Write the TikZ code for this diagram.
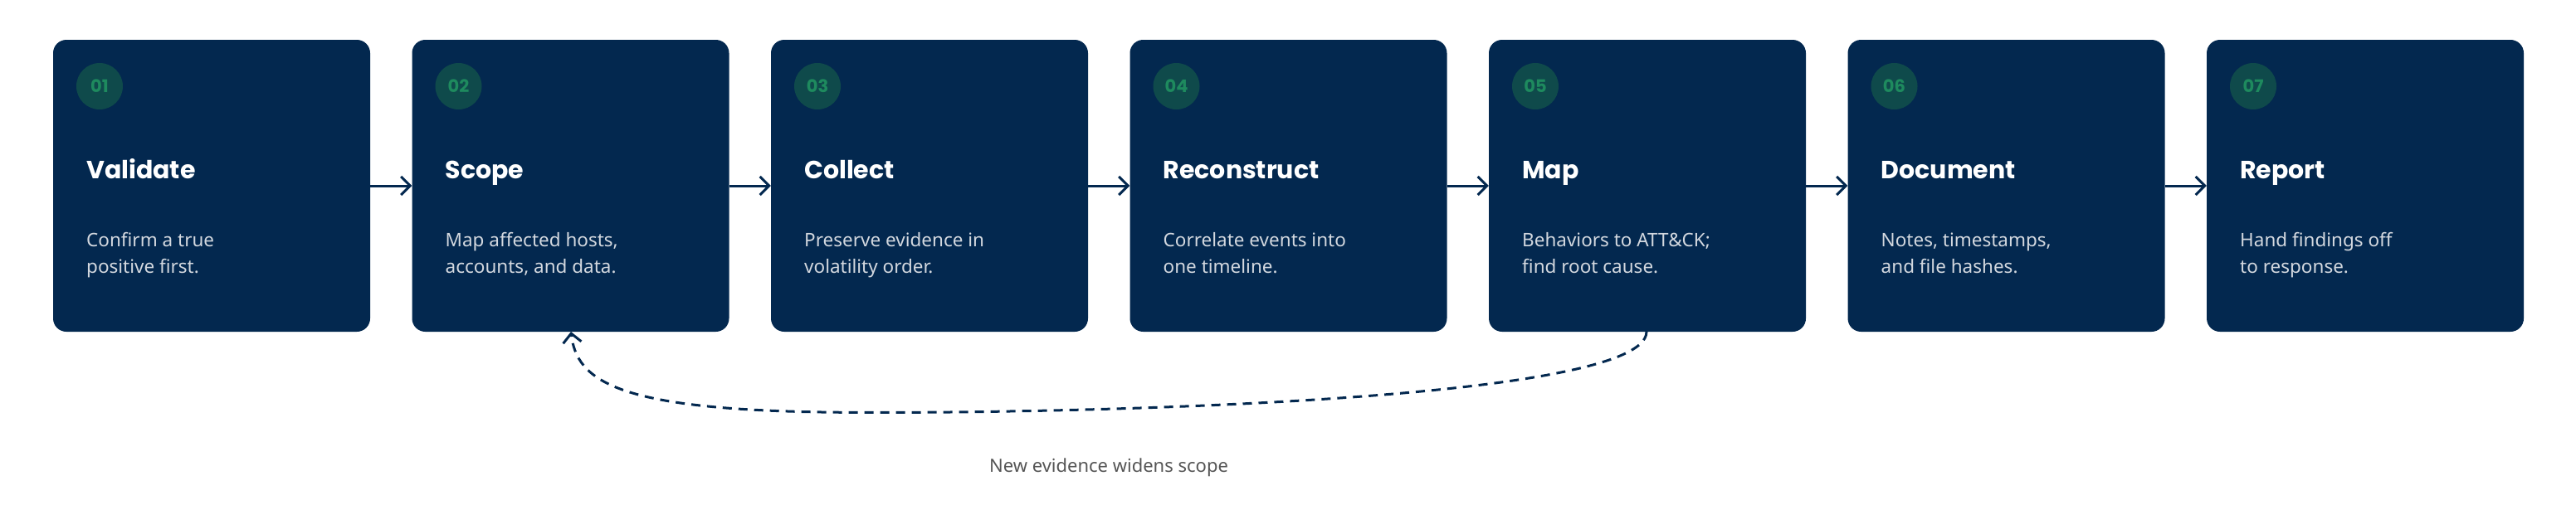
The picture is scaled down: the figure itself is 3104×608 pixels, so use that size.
\documentclass[tikz,border=0pt]{standalone}
\usepackage{fontspec}
\setmainfont{Noto Sans}
\newfontfamily\titlefont{Poppins}
\usetikzlibrary{arrows.meta}
\definecolor{navy}{HTML}{03284F}
\definecolor{badge}{HTML}{0F4A4B}
\definecolor{badgetext}{HTML}{1E8A5E}
\definecolor{desc}{HTML}{D3D8DF}
\definecolor{lbl}{HTML}{555555}
\tikzset{
  card/.style={fill=navy, rounded corners=16pt, minimum width=382pt, minimum height=352pt, inner sep=0pt, draw=none},
  badgec/.style={circle, fill=badge, minimum size=56pt, inner sep=0pt, text=badgetext, font=\titlefont\bfseries\fontsize{21}{24}\selectfont},
  ttl/.style={anchor=base west, text=white, inner sep=0pt, font=\titlefont\bfseries\fontsize{30}{36}\selectfont},
  dsc/.style={anchor=base west, text=desc, inner sep=0pt, font=\fontsize{22.5}{32}\selectfont},
  flow/.style={draw=navy, line width=3pt, -{Straight Barb[length=11pt,width=22pt,line width=3pt]}},
}
\newcommand\stepcard[5]{%
  \pgfmathsetmacro\xl{64+(#1-1)*432.5}%
  \node[card] (c#1) at (\xl+191,224) {};%
  \node[badgec] (b#1) at (\xl+56,104) {0#1};%
  \node[ttl] (t#1) at (\xl+40,215) {#2};%
  \node[dsc] (d#1) at (\xl+40,297) {#3};%
  \node[dsc] (e#1) at (\xl+40,329) {#4};%
}
\begin{document}
\begin{tikzpicture}[x=1pt,y=-1pt]
\useasboundingbox (0,0) rectangle (3104,608);
\stepcard{1}{Validate}{Confirm a true}{positive first.}{}
\stepcard{2}{Scope}{Map affected hosts,}{accounts, and data.}{}
\stepcard{3}{Collect}{Preserve evidence in}{volatility order.}{}
\stepcard{4}{Reconstruct}{Correlate events into}{one timeline.}{}
\stepcard{5}{Map}{Behaviors to ATT\&CK;}{find root cause.}{}
\stepcard{6}{Document}{Notes, timestamps,}{and file hashes.}{}
\stepcard{7}{Report}{Hand findings off}{to response.}{}
\foreach \i [evaluate=\i as \j using int(\i+1)] in {1,...,6}
  \draw[flow] (c\i.east) -- (c\j.west);
\coordinate (s) at (1984,400);
\coordinate (e) at (688,400);
\draw[navy, line width=3pt, dash pattern=on 11pt off 8pt, -{Straight Barb[length=11pt,width=22pt,line width=3pt]}]
  (s) .. controls (1984,490) and (1190,500) .. (990,497) .. controls (745,493) and (695,460) .. (e);
\node[text=lbl, font=\fontsize{22}{26}\selectfont] (lab) at (1336,564) {New evidence widens scope};
\end{tikzpicture}
\end{document}
